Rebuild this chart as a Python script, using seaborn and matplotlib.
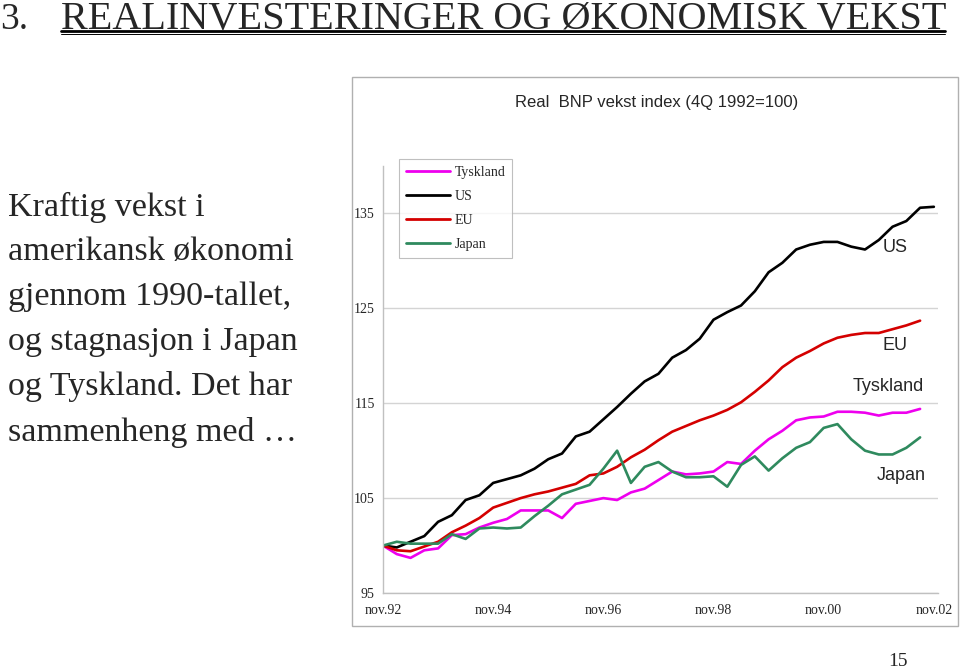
import numpy as np
import pandas as pd
import seaborn as sns
import matplotlib.pyplot as plt
from matplotlib.lines import Line2D
from matplotlib.patches import Rectangle

# Real BNP vekst index, kvartalsvis fra 4Q 1992 (=100)
us = [100, 99.8, 100.4, 101, 102.5, 103.2, 104.8, 105.3, 106.6, 107, 107.4, 108.1,
      109.1, 109.7, 111.5, 112, 113.3, 114.6, 116, 117.3, 118.1, 119.8, 120.6, 121.8,
      123.8, 124.6, 125.3, 126.8, 128.8, 129.8, 131.2, 131.7, 132, 132, 131.5, 131.2,
      132.2, 133.6, 134.2, 135.6, 135.7]
eu = [100, 99.5, 99.4, 99.9, 100.4, 101.4, 102.1, 102.9, 104, 104.5, 105, 105.4,
      105.7, 106.1, 106.5, 107.4, 107.6, 108.3, 109.3, 110.1, 111.1, 112, 112.6, 113.2,
      113.7, 114.3, 115.1, 116.2, 117.4, 118.8, 119.8, 120.5, 121.3, 121.9, 122.2, 122.4,
      122.4, 122.8, 123.2, 123.7]
tyskland = [100, 99.1, 98.7, 99.5, 99.7, 101.1, 101.2, 101.9, 102.4, 102.8, 103.7, 103.7,
            103.7, 102.9, 104.4, 104.7, 105, 104.8, 105.6, 106, 106.9, 107.8, 107.5, 107.6,
            107.8, 108.8, 108.6, 110, 111.2, 112.1, 113.2, 113.5, 113.6, 114.1, 114.1, 114,
            113.7, 114, 114, 114.4]
japan = [100, 100.4, 100.2, 100.2, 100.2, 101.2, 100.7, 101.8, 101.9, 101.8, 101.9, 103.1,
         104.2, 105.4, 105.9, 106.4, 108.1, 110, 106.6, 108.3, 108.8, 107.8, 107.2, 107.2,
         107.3, 106.2, 108.5, 109.4, 107.9, 109.2, 110.3, 110.9, 112.4, 112.8, 111.2, 110,
         109.6, 109.6, 110.3, 111.4]

serier = ["Tyskland", "US", "EU", "Japan"]
farger = {"Tyskland": "#ee00ee", "US": "#000000", "EU": "#d40000", "Japan": "#2f8a5e"}
tick_labels = ["nov.92", "nov.94", "nov.96", "nov.98", "nov.00", "nov.02"]
y_ticks = [95, 105, 115, 125, 135]

frames = []
for navn, verdier in zip(serier, [tyskland, us, eu, japan]):
    frames.append(pd.DataFrame({"kvartal": np.arange(len(verdier)),
                                "indeks": verdier, "serie": navn}))
df = pd.concat(frames, ignore_index=True)

sns.set_style("white")
plt.rcParams["font.family"] = ["Liberation Serif", "DejaVu Serif"]

fig = plt.figure(figsize=(9.6, 6.71), dpi=100)

# Tittel med dobbel understreking
fig.text(0.0, 1 - 29 / 671, "3.", fontsize=27, va="baseline", ha="left")
fig.text(0.064, 1 - 29 / 671, "REALINVESTERINGER OG ØKONOMISK VEKST", fontsize=29,
         va="baseline", ha="left")
fig.add_artist(Line2D([0.064, 0.984], [1 - 31 / 671] * 2, color="black", lw=2,
                      transform=fig.transFigure))
fig.add_artist(Line2D([0.064, 0.984], [1 - 34 / 671] * 2, color="black", lw=0.7,
                      transform=fig.transFigure))

venstre_tekst = ["Kraftig vekst i", "amerikansk økonomi", "gjennom 1990-tallet,",
                 "og stagnasjon i Japan", "og Tyskland. Det har", "sammenheng med …"]
for i, linje in enumerate(venstre_tekst):
    fig.text(0.008, 1 - (207 + i * 45) / 671, linje, fontsize=24.5, va="center",
             ha="left")

fig.text(0.935, 1 - 661 / 671, "15", fontsize=14, va="center", ha="center")

# Ramme rundt diagrammet
fig.add_artist(Rectangle((352 / 960, 1 - 626 / 671), 606 / 960, 549 / 671,
                         transform=fig.transFigure, fill=False,
                         edgecolor="#b0b0b0", lw=1))
fig.text(657 / 960, 1 - 103 / 671, "Real  BNP vekst index (4Q 1992=100)",
         fontsize=12, family="Liberation Sans", ha="center", va="center")

ax = fig.add_axes([383 / 960, 1 - 593 / 671, 555 / 960, 427 / 671])
sns.lineplot(data=df, x="kvartal", y="indeks", hue="serie", hue_order=serier,
             palette=farger, linewidth=1.9, legend=False, ax=ax)

ax.set_xlim(0, 40.3)
ax.set_ylim(95, 140)
ax.set_xticks(np.arange(0, 41, 8))
ax.set_xticklabels(tick_labels)
ax.set_yticks(y_ticks)
ax.set_xlabel("")
ax.set_ylabel("")
ax.grid(axis="y", color="#d4d4d4", lw=1)
ax.set_axisbelow(True)
for side in ["top", "right"]:
    ax.spines[side].set_visible(False)
for side in ["left", "bottom"]:
    ax.spines[side].set_color("#c0c0c0")
    ax.spines[side].set_linewidth(1)
ax.tick_params(axis="both", which="both", direction="out", length=4,
               color="#c0c0c0", labelsize=10, pad=4)
ax.tick_params(axis="y", pad=2)

handles = [Line2D([0], [0], color=farger[s], lw=2) for s in serier]
leg = fig.legend(handles, serier, loc="upper left",
                 bbox_to_anchor=(399 / 960, 1 - 159 / 671), fontsize=10,
                 frameon=True, fancybox=False, edgecolor="#b0b0b0",
                 handlelength=3.2, handletextpad=0.3, labelspacing=0.8,
                 borderpad=0.5, borderaxespad=0)
leg.get_frame().set_linewidth(0.8)

# Seriemerker
for tekst, x, y in [("US", 895, 248), ("EU", 895, 345),
                    ("Tyskland", 888, 386), ("Japan", 901, 475)]:
    fig.text(x / 960, 1 - y / 671, tekst, fontsize=13, family="Liberation Sans",
             ha="center", va="center")

fig.savefig("out.png", dpi=100)
